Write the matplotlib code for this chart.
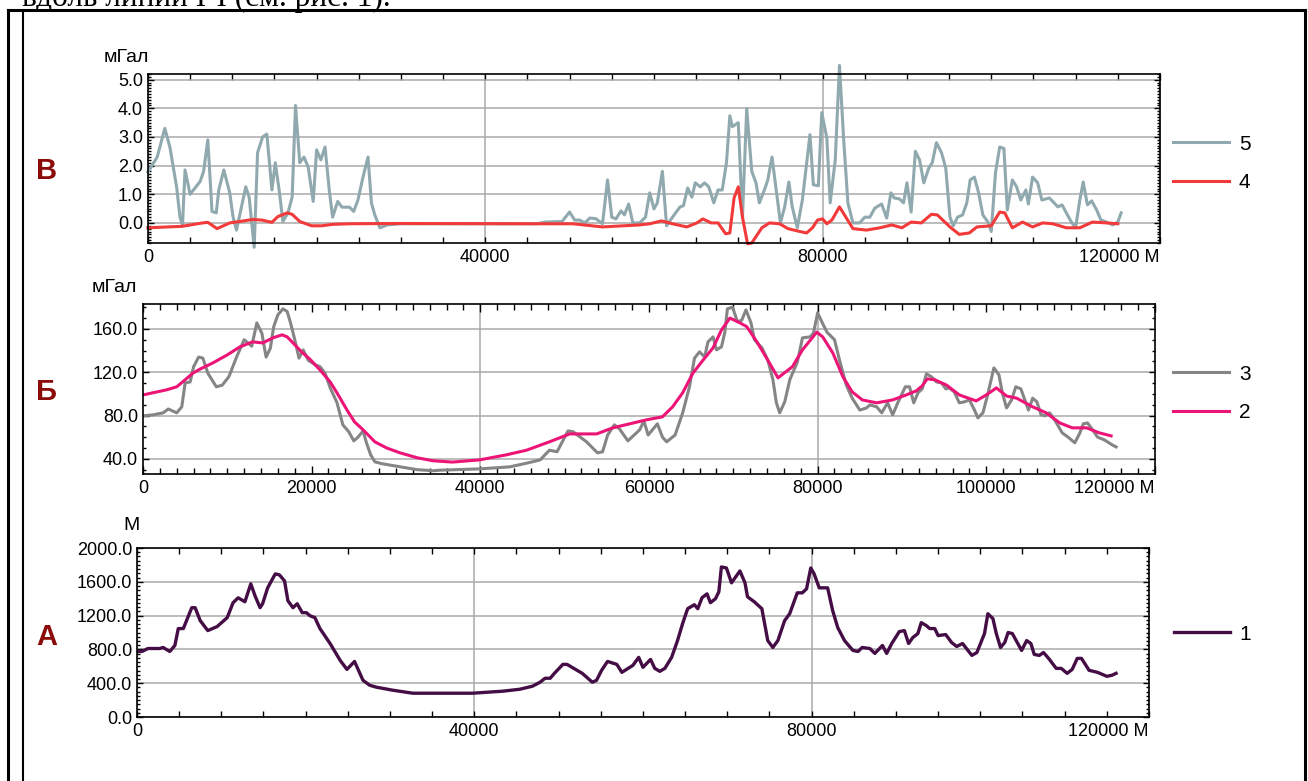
#
# Профили вдоль линии I-I: рельеф (А), поле силы тяжести (Б), остаточные аномалии (В)
#
import matplotlib
matplotlib.use("Agg")
import matplotlib.pyplot as plt
from matplotlib.lines import Line2D
from matplotlib.ticker import MultipleLocator, FormatStrFormatter

plt.rcParams["font.family"] = ["Liberation Sans", "DejaVu Sans"]

#
# Данные (расстояние вдоль профиля, м)
#
x5 = [0, 1100, 2000, 2600, 3400, 3800, 4100, 4400, 5000, 6200, 6600, 7100, 7600,
      8100, 8400, 9000, 9700, 10100, 10500, 11600, 12000, 12600, 13000, 13600,
      14100, 14700, 15100, 15600, 16000, 16600, 17100, 17500, 18000, 18500, 19000,
      19600, 20000, 20500, 21000, 21500, 21900, 22500, 23000, 23900, 24400, 24900,
      25500, 26100, 26500, 26900, 27500, 28400, 29900, 46100, 47100, 49100, 50000,
      50600, 51200, 51800, 52400, 53100, 53900, 54500, 55000, 55500, 56100, 56500,
      57000, 57500, 58300, 59000, 59500, 60000, 60400, 61000, 61500, 62200, 63100,
      63500, 64000, 64500, 64900, 65500, 66000, 66500, 67100, 67600, 68100, 68600,
      69000, 69300, 70000, 70500, 71000, 71600, 72100, 72500, 73100, 73500, 74000,
      74500, 75000, 75500, 76000, 76400, 77000, 77600, 78500, 78900, 79500, 79900,
      80500, 80900, 81500, 82000, 82500, 83000, 83600, 84400, 85000, 85600, 86200,
      87000, 87600, 88100, 88500, 89100, 89600, 90000, 90500, 91000, 91500, 92000,
      92600, 93000, 93500, 94100, 94600, 95100, 95500, 96000, 96600, 97100, 97500,
      98000, 98500, 99000, 99600, 100000, 100500, 101000, 101500, 101900, 102500,
      103000, 103500, 104100, 104400, 104900, 105500, 106000, 106900, 107900,
      108400, 108900, 109500, 110000, 110500, 110900, 111400, 111900, 112500,
      113000, 113500, 114400, 115000, 115400]
g5 = [1.78, 2.3, 3.3, 2.65, 1.26, 0.2, -0.07, 1.85, 1.0, 1.45, 1.8, 2.9, 0.4,
      0.35, 1.15, 1.85, 1.05, 0.2, -0.25, 1.26, 0.9, -0.85, 2.45, 3.0,
      3.1, 1.15, 2.1, 1.05, 0.05, 0.35, 0.9, 4.1, 2.1, 2.3, 1.95,
      0.75, 2.55, 2.2, 2.65, 1.15, 0.2, 0.75, 0.55, 0.55, 0.4, 0.8,
      1.6, 2.3, 0.7, 0.28, -0.17, -0.07, -0.03, -0.03, 0.03, 0.05, 0.38,
      0.1, 0.1, 0.0, 0.17, 0.15, -0.03, 1.5, 0.2, 0.14, 0.42, 0.28,
      0.66, 0.0, 0.0, 0.2, 1.05, 0.49, 0.7, 1.8, -0.1, 0.2, 0.56,
      0.6, 1.22, 0.9, 1.4, 1.26, 1.4, 1.26, 0.7, 1.15, 1.15, 2.1,
      3.74, 3.36, 3.5, 0.2, 4.0, 1.8, 1.4, 0.7, 1.15, 1.5, 2.3,
      1.15, 0.0, 0.56, 1.43, 0.56, -0.17, 0.8, 3.08, 1.33, 1.3, 3.85,
      2.97, 0.7, 2.2, 5.5, 2.9, 0.7, 0.0, 0.0, 0.2, 0.2, 0.52,
      0.66, 0.17, 1.05, 0.87, 0.84, 0.7, 1.4, 0.38, 2.5, 2.2, 1.4,
      1.92, 2.1, 2.8, 2.45, 1.92, 0.2, -0.1, 0.2, 0.28, 0.7, 1.5,
      1.6, 1.05, 0.28, 0.03, -0.3, 1.75, 2.65, 2.6, 0.45, 1.5,
      1.26, 0.8, 1.15, 0.66, 1.6, 1.4, 0.8, 0.87, 0.56,
      0.63, 0.35, 0.03, -0.17, 0.8, 1.43, 0.63, 0.77, 0.45,
      0.1, 0.05, -0.07, 0.03, 0.35]

x4 = [0, 4000, 6500, 7100, 8200, 9700, 10900, 12400, 13500, 14700, 15400, 16500,
      17100, 18000, 19400, 20600, 21900, 23900, 29900, 46500, 50400, 53900, 58300,
      59500, 60900, 62200, 63900, 65100, 65800, 66800, 67600, 68500, 69000, 69500,
      70000, 70500, 71100, 71600, 72800, 73700, 74900, 75900, 77300, 78100, 78800,
      79400, 80000, 80500, 81100, 82000, 83600, 85200, 86800, 88200, 89400, 90500,
      91700, 92900, 93600, 95100, 96200, 97400, 98300, 100000, 101000, 101600,
      102500, 103700, 104900, 106100, 107300, 108900, 110500, 112000, 113700, 115000]
g4 = [-0.17, -0.12, 0.0, 0.02, -0.2, 0.0, 0.05, 0.12, 0.1, 0.02, 0.22, 0.35,
      0.3, 0.05, -0.1, -0.1, -0.05, -0.03, -0.02, -0.03, -0.03, -0.14, -0.07,
      -0.03, 0.07, -0.03, -0.14, 0.0, 0.14, 0.0, 0.0, -0.38, -0.35, 0.87,
      1.26, 0.2, -0.73, -0.7, -0.17, 0.0, -0.03, -0.2, -0.3, -0.35, -0.17,
      0.1, 0.14, -0.03, 0.1, 0.56, -0.2, -0.25, -0.17, -0.07, -0.17, 0.03,
      0.0, 0.3, 0.28, -0.14, -0.4, -0.35, -0.14, -0.1, 0.38, 0.35,
      -0.17, 0.03, -0.14, 0.0, -0.03, -0.17, -0.17, 0.03, 0.0, -0.03]

x3 = [0, 1200, 2400, 3000, 4000, 4600, 5000, 5600, 6000, 6600, 7100, 7700, 8700,
      9400, 10200, 11100, 12000, 12900, 13500, 14100, 14600, 15100, 15500, 16000,
      16600, 17100, 17500, 18000, 18500, 19000, 19600, 20400, 21000, 21600, 22200,
      23000, 23700, 24400, 25000, 25500, 26100, 26500, 27000, 27500, 28400, 30500,
      32500, 34400, 35200, 39900, 43500, 45500, 47100, 48200, 49100, 50400, 51000,
      52600, 53900, 54500, 55100, 55900, 56500, 57500, 58900, 59400, 59900, 61000,
      61600, 62100, 63100, 64000, 64800, 65400, 66000, 66600, 67000, 67600, 68000,
      68600, 69000, 69300, 69900, 70500, 71000, 71500, 72100, 72500, 73400, 74100,
      74700, 75100, 75500, 76100, 76700, 77600, 78200, 79100, 79500, 80000, 80500,
      81100, 82000, 82600, 83400, 84100, 85000, 85800, 86200, 87000, 87600, 88300,
      88900, 89500, 90400, 90900, 91400, 91900, 92400, 92900, 93500, 94100, 94700,
      95200, 95600, 96200, 96800, 97400, 98000, 98600, 99000, 99600, 100100,
      100900, 101500, 101900, 102400, 103000, 103500, 104100, 104500, 105000,
      105500, 106000, 106500, 107000, 107500, 108100, 109000, 109700, 110500,
      111100, 111500, 112000, 112600, 113200, 114000, 114900, 115400]
g3 = [79.7, 80.6, 82.5, 86, 82.5, 88, 110, 111, 125, 134, 133, 119, 106.5,
      108, 116, 134, 150, 144, 165.5, 156, 134, 142, 162, 173,
      178.5, 176, 165.5, 150, 133, 140.6, 131, 127, 125, 119, 105.5,
      92, 71.4, 65, 56.6, 60, 65.8, 54.8, 43.7, 37.2, 35.4, 32.6,
      30, 29, 29.5, 30.7, 32.6, 36, 39, 48, 46.5, 65.8, 65,
      55.7, 45.5, 46.5, 62, 71.4, 67.7, 56.6, 66.8, 75, 62, 72.3,
      60, 55.7, 62, 82.5, 106.5, 133, 138.8, 134, 148, 152.6, 140.6,
      143.4, 157, 178.5, 180, 166.5, 168, 177.5, 165.5, 150, 142.5, 131,
      113, 92, 82.5, 92.6, 113, 129.5, 151.7, 152.6, 156, 174.8, 166.5,
      157, 150, 131, 108, 96, 85, 87, 89.8, 88, 82.5, 91.7,
      80.6, 91.7, 106.5, 106.5, 91.7, 101, 104.6, 118.5, 115.7, 111, 110,
      104.6, 105.5, 101.8, 91.7, 92.6, 94.4, 85, 77.8, 82.5, 97.2,
      124, 117.5, 101, 87, 94.4, 106.5, 104.6, 96, 85,
      96, 92.6, 80.6, 79.7, 82.5, 76, 64, 60, 54.8,
      64, 72.3, 73.2, 66.8, 60, 57.5, 53, 51]

x2 = [0, 2800, 4000, 4700, 5900, 6800, 8300, 10000, 11500, 13000, 14200, 15400,
      16500, 17100, 17800, 18800, 19800, 21000, 22200, 23000, 24200, 25100, 26100,
      27500, 28900, 30500, 32500, 34400, 36700, 39900, 43100, 45500, 48200, 50600,
      53800, 55700, 57700, 59700, 61600, 62800, 64000, 65200, 66400, 67600, 68600,
      69600, 70800, 71600, 72800, 74100, 75300, 77000, 78200, 79900, 80600, 81800,
      83000, 84100, 85300, 87000, 88900, 90500, 91700, 92400, 93000, 93900, 95300,
      96800, 98800, 100000, 101200, 102400, 103600, 105500, 107100, 108700,
      110200, 111900, 113400, 114800]
g2 = [99, 103.7, 106.5, 111, 119, 123, 128.6, 136, 143.4, 148, 147, 151.7,
      154.5, 152.6, 147, 138.8, 132, 122, 111, 101, 85, 74, 66.8,
      55.7, 50, 45.5, 41, 38.2, 37, 39, 43.7, 48, 55.7, 63,
      63, 68.6, 72.3, 76, 78.8, 88, 101, 119, 131, 142.5, 159,
      170, 165.5, 162, 148, 131, 114.8, 125, 140.6, 157, 152.6, 137.8,
      115.7, 101.8, 94.4, 91.7, 94.4, 99, 102.8, 107.4, 113.8, 113, 108,
      99, 93.5, 99, 105.5, 98, 96, 88, 82.5, 73.2,
      68.6, 68.6, 64, 61.2]

x1 = [0, 600, 1300, 2700, 3100, 3900, 4500, 4900, 5500, 6500, 6900, 7500, 8400,
      9500, 10700, 11400, 12000, 12800, 13500, 14000, 14600, 14900, 15500, 16400,
      16900, 17500, 17900, 18500, 19000, 19600, 20100, 20500, 21100, 21700, 22900,
      24100, 24900, 25800, 26800, 27600, 28400, 30300, 32700, 35100, 39800, 43400,
      45400, 46900, 47800, 48400, 49000, 49500, 50500, 51000, 52800, 54000, 54500,
      55100, 55800, 56900, 57500, 58800, 59500, 60000, 60900, 61400, 62000, 62600,
      63400, 64100, 64700, 65300, 66100, 66500, 67000, 67600, 68000, 68600, 69000,
      69300, 69900, 70500, 71500, 72100, 72400, 73200, 74100, 74800, 75400, 76000,
      76800, 77400, 78300, 78900, 79400, 79900, 80300, 80900, 81900, 82500, 83100,
      83900, 84900, 85500, 86000, 86900, 87500, 88400, 88900, 89500, 90400, 91000,
      91500, 92000, 92600, 93000, 93600, 94000, 94600, 95000, 95900, 96600, 97200,
      97900, 99000, 99600, 100500, 100900, 101500, 101900, 102400, 102900, 103300,
      103800, 104900, 105500, 106000, 106400, 107000, 107500, 108200, 109000,
      109600, 110300, 110900, 111500, 112000, 112900, 113900, 115000, 115600, 116100]
h1 = [776, 776, 811, 811, 823, 776, 847, 1047, 1047, 1294, 1294, 1141, 1023,
      1070, 1176, 1353, 1411, 1364, 1576, 1435, 1294, 1341, 1529, 1694,
      1682, 1611, 1376, 1294, 1341, 1235, 1235, 1200, 1176, 1047, 870,
      670, 564, 658, 435, 376, 353, 318, 282, 282, 282, 306,
      329, 365, 412, 459, 459, 517, 623, 623, 517, 412, 435,
      553, 658, 623, 529, 611, 706, 588, 682, 576, 541, 576,
      706, 905, 1105, 1282, 1329, 1282, 1411, 1458, 1353, 1400, 1482,
      1776, 1764, 1588, 1729, 1588, 1423, 1364, 1282, 905, 823, 905,
      1141, 1223, 1470, 1470, 1517, 1764, 1694, 1529, 1529, 1258, 1058,
      905, 788, 776, 823, 811, 753, 847, 753, 870, 1011, 1023,
      870, 941, 988, 1117, 1082, 1047, 1047, 964, 976, 882, 835,
      870, 729, 764, 988, 1223, 1164, 988, 823, 882, 1000,
      988, 788, 905, 870, 741, 729, 764, 682, 576,
      576, 517, 564, 694, 694, 553, 529, 482, 494, 517]

xticks_main = [0, 40000, 80000, 120000]
xlabels_main = ["0", "40000", "80000", "120000 М"]
xticks_mid = [0, 20000, 40000, 60000, 80000, 100000, 120000]
xlabels_mid = ["0", "20000", "40000", "60000", "80000", "100000", "120000 М"]

grid_color = "#a9a9a9"


def setup(ax, xticks, xlabels, xminor, ymajor, yminor, ylim):
    ax.set_xlim(0, 120000)
    ax.set_ylim(*ylim)
    ax.set_xticks(xticks, xlabels)
    ax.xaxis.set_minor_locator(MultipleLocator(xminor))
    ax.yaxis.set_major_locator(MultipleLocator(ymajor))
    ax.yaxis.set_minor_locator(MultipleLocator(yminor))
    ax.yaxis.set_major_formatter(FormatStrFormatter("%.1f"))
    ax.tick_params(which="both", direction="in", top=True, right=True,
                   labelsize=13, width=1.0, colors="black")
    ax.tick_params(which="major", length=4.5, pad=4)
    ax.tick_params(axis="y", which="major", pad=3.5)
    ax.tick_params(which="minor", length=2.5)
    ax.tick_params(axis="x", which="minor", length=4)
    ax.yaxis.grid(True, color=grid_color, lw=1.1)
    for s in ax.spines.values():
        s.set_linewidth(1.2)
    ax.get_xticklabels()[-1].set_horizontalalignment("right")


fig = plt.figure(figsize=(13.08, 7.81), dpi=100)

#
# В: остаточные аномалии
#
ax_v = fig.add_axes([0.1131, 0.6889, 0.7737, 0.2164])
ax_v.plot(x5, g5, color="#90a9ae", lw=2.2, label="5", clip_on=False)
ax_v.plot(x4, g4, color="#f23a3a", lw=2.2, label="4", clip_on=False)
setup(ax_v, xticks_main, xlabels_main, 5000, 1.0, 0.1, (-0.7, 5.2))
ax_v.xaxis.grid(True, color=grid_color, lw=1.1)

#
# Б: поле силы тяжести
#
ax_b = fig.add_axes([0.1093, 0.3931, 0.7737, 0.2177])
ax_b.plot(x3, g3, color="#858585", lw=2.2, label="3")
ax_b.plot(x2, g2, color="#ec1477", lw=2.2, label="2")
setup(ax_b, xticks_mid, xlabels_mid, 2000, 40, 10, (26, 183))
for xg in [40000, 80000]:
    ax_b.axvline(xg, color=grid_color, lw=1.1, zorder=0.5)
ax_b.tick_params(axis="x", which="major", length=6)

#
# А: рельеф
#
ax_a = fig.add_axes([0.1047, 0.0819, 0.7737, 0.2164])
ax_a.plot(x1, h1, color="#450d45", lw=2.4, label="1")
setup(ax_a, xticks_main, xlabels_main, 5000, 400, 50, (0, 2000))
ax_a.xaxis.grid(True, color=grid_color, lw=1.1)

# легенды справа
for ax, yc, x0 in [(ax_v, 0.47, 1.013), (ax_b, 0.4735, 1.018), (ax_a, 0.491, 1.025)]:
    ax.legend(loc="center left", bbox_to_anchor=(x0, yc), frameon=False,
              fontsize=15, handlelength=2.7, handletextpad=0.45,
              labelspacing=0.95, borderpad=0, borderaxespad=0)

# подписи единиц
fig.text(104 / 1308, 1 - 58 / 781, "мГал", fontsize=14, ha="left", va="center")
fig.text(92 / 1308, 1 - 288 / 781, "мГал", fontsize=14, ha="left", va="center")
fig.text(123 / 1308, 1 - 526 / 781, "М", fontsize=14, ha="left", va="center")

# буквы панелей
for ch, yy in [("В", 171), ("Б", 392), ("А", 637)]:
    fig.text(47 / 1308, 1 - yy / 781, ch, fontsize=21, fontweight="bold",
             color="#8b0a0a", ha="center", va="center")

# рамка таблицы и обрезанная строка текста сверху
W, H = 1308, 781
frame = [([8, 8], [10, H]), ([8, 1305], [10, 10]), ([1305, 1305], [10, H])]
for xs, ys in frame:
    fig.add_artist(Line2D([v / W for v in xs], [1 - v / H for v in ys],
                          transform=fig.transFigure, color="black", lw=2.2))
fig.add_artist(Line2D([23 / W, 23 / W], [1 - 11 / H, 0],
                      transform=fig.transFigure, color="black", lw=1.5))
fig.text(22 / W, 1 - 6 / H, "вдоль линии I-I (см. рис. 1).",
         family="Liberation Serif", fontsize=22.5, ha="left", va="baseline")

fig.savefig("out.png", dpi=100)
